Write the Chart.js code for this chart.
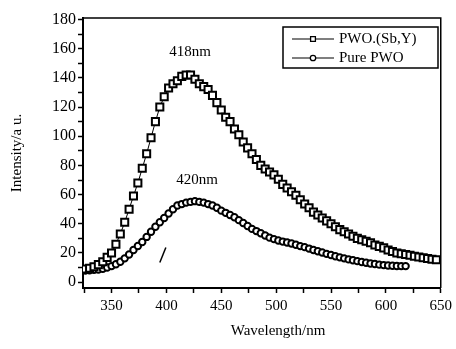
<!DOCTYPE html>
<html>
<head>
<meta charset="utf-8">
<script src="https://cdn.jsdelivr.net/npm/chart.js@4.4.0/dist/chart.umd.min.js"></script>
<style>
    body { margin: 0; background: #fff; }
    #wrap { width: 456px; height: 349px; position: relative; }
</style>
</head>
<body>
<div id="wrap"><canvas id="myChart"></canvas></div>
<script>
// wavelengths (nm) and intensities
const sbyWave = [326, 330, 334, 338, 342, 346, 350, 354, 358, 362,
    366, 370, 374, 378, 382, 386, 390, 394, 398, 402,
    406, 410, 414, 418, 422, 426, 430, 434, 438, 442,
    446, 450, 454, 458, 462, 466, 470, 474, 478, 482,
    486, 490, 494, 498, 502, 506, 510, 514, 518, 522,
    526, 530, 534, 538, 542, 546, 550, 554, 558, 562,
    566, 570, 574, 578, 582, 586, 590, 594, 598, 602,
    606, 610, 614, 618, 622, 626, 630, 634, 638, 642,
    646];
const sbyIntensity = [9, 9.5, 10.5, 12, 14, 17, 20, 26, 33, 41,
    50, 59, 68, 78, 88, 99, 110, 120, 127, 133,
    136, 138, 141, 142, 142, 139, 136, 134, 132, 128,
    123, 118, 113, 110, 105, 101, 96, 92, 88, 84,
    80, 77.5, 75.5, 73.5, 70.5, 67, 64.5, 62, 59.5, 56.5,
    53.5, 51, 48, 46, 44, 42, 40, 38, 36, 34.5,
    33, 31.5, 30, 29, 28, 27, 25.5, 24.5, 23.5, 22,
    21, 20, 19.5, 19, 18.5, 17.8, 17.2, 16.7, 16.2, 15.7,
    15.3];

const pureWave = [326, 330, 334, 338, 342, 346, 350, 354, 358, 362,
    366, 370, 374, 378, 382, 386, 390, 394, 398, 402,
    406, 410, 414, 418, 422, 426, 430, 434, 438, 442,
    446, 450, 454, 458, 462, 466, 470, 474, 478, 482,
    486, 490, 494, 498, 502, 506, 510, 514, 518, 522,
    526, 530, 534, 538, 542, 546, 550, 554, 558, 562,
    566, 570, 574, 578, 582, 586, 590, 594, 598, 602,
    606, 610, 614, 618];
const pureIntensity = [8, 8.2, 8.4, 8.7, 9.2, 10, 11, 12.3, 14, 16.3,
    19, 22, 24.8, 27.5, 31, 34.5, 38, 41, 44, 47,
    50, 52.5, 53.5, 54.5, 55, 55.5, 55, 54.5, 53.5, 52.5,
    51, 49, 47.5, 46, 44.5, 42.5, 40.5, 38.5, 36.5, 35,
    33.5, 32, 30.5, 29.5, 28.5, 27.8, 27.2, 26.5, 25.6, 24.7,
    24, 23, 22, 21.2, 20.3, 19.4, 18.6, 17.8, 17, 16.3,
    15.6, 15, 14.4, 13.8, 13.3, 12.8, 12.4, 12, 11.7, 11.4,
    11.2, 11.1, 11, 11];

const seriesNames = ['PWO.(Sb,Y)', 'Pure PWO'];
const peakLabels = [
    { text: '418nm', x: 421.5, y: 158 },
    { text: '420nm', x: 428, y: 70 }
];

// tick positions (labelled ones every 50 nm / 20 units)
const xTicks = [325, 350, 375, 400, 425, 450, 475, 500, 525, 550, 575, 600, 625, 650];
const xLabels = [350, 400, 450, 500, 550, 600, 650];
const yTicks = [0, 10, 20, 30, 40, 50, 60, 70, 80, 90, 100, 110, 120, 130, 140, 150, 160, 170, 180];
const yLabels = [0, 20, 40, 60, 80, 100, 120, 140, 160, 180];

const FONT = '"Liberation Serif", "Times New Roman", serif';

function toPoints(xs, ys) {
    return xs.map(function (x, i) { return { x: x, y: ys[i] }; });
}

// frame, legend box, peak labels and axis titles
const extras = {
    id: 'extras',
    afterDraw: function (chart) {
        const c = chart.ctx;
        const area = chart.chartArea;
        const xs = chart.scales.x;
        const ys = chart.scales.y;
        c.save();
        c.strokeStyle = '#000';
        c.lineWidth = 1.5;
        c.beginPath();
        c.moveTo(area.left, area.top);
        c.lineTo(area.right, area.top);
        c.lineTo(area.right, area.bottom);
        c.stroke();

        c.fillStyle = '#000';
        c.font = '15px ' + FONT;
        c.textAlign = 'center';
        c.textBaseline = 'middle';
        peakLabels.forEach(function (p) {
            c.fillText(p.text, xs.getPixelForValue(p.x), ys.getPixelForValue(p.y));
        });

        // small stray stroke near 395 nm
        c.lineWidth = 1.5;
        c.beginPath();
        c.moveTo(xs.getPixelForValue(394), ys.getPixelForValue(13.5));
        c.lineTo(xs.getPixelForValue(399.5), ys.getPixelForValue(23.8));
        c.stroke();

        // legend
        const lx = 283, ly = 27, lw = 155, lh = 41;
        c.lineWidth = 1.5;
        c.strokeRect(lx, ly, lw, lh);
        c.textAlign = 'left';
        chart.data.datasets.forEach(function (ds, i) {
            const yy = 39 + i * 19;
            c.strokeStyle = '#000';
            c.lineWidth = 1.2;
            c.beginPath();
            c.moveTo(292, yy);
            c.lineTo(334, yy);
            c.stroke();
            c.fillStyle = '#fff';
            c.lineWidth = 1.3;
            Chart.helpers.drawPoint(c, {
                pointStyle: ds.pointStyle,
                radius: ds.pointStyle === 'rect' ? 3.4 : 2.7,
                borderWidth: 1.3
            }, 313, yy);
            c.fillStyle = '#000';
            c.fillText(ds.label, 339, yy);
        });

        // axis titles
        c.font = '15px ' + FONT;
        c.textAlign = 'center';
        c.fillText('Wavelength/nm', 278, 331);
        c.translate(17, (area.top + area.bottom) / 2);
        c.rotate(-Math.PI / 2);
        c.fillText('Intensity/a u.', 0, 0);
        c.restore();
    }
};

const ctx = document.getElementById('myChart');
new Chart(ctx, {
    type: 'scatter',
    data: {
        datasets: [
            {
                label: seriesNames[0],
                data: toPoints(sbyWave, sbyIntensity),
                showLine: true,
                borderColor: '#000',
                borderWidth: 1,
                pointStyle: 'rect',
                pointRadius: 5,
                pointBorderWidth: 2,
                pointBackgroundColor: '#fff',
                pointBorderColor: '#000'
            },
            {
                label: seriesNames[1],
                data: toPoints(pureWave, pureIntensity),
                showLine: true,
                borderColor: '#000',
                borderWidth: 1,
                pointStyle: 'circle',
                pointRadius: 3.2,
                pointBorderWidth: 2,
                pointBackgroundColor: '#fff',
                pointBorderColor: '#000'
            }
        ]
    },
    options: {
        responsive: true,
        maintainAspectRatio: false,
        animation: false,
        layout: { padding: { top: 18, right: 9, left: 0, bottom: 0 } },
        plugins: {
            legend: { display: false },
            tooltip: { enabled: false }
        },
        scales: {
            x: {
                type: 'linear',
                min: 324,
                max: 650,
                afterFit: function (scale) { scale.height = 61; },
                afterBuildTicks: function (scale) {
                    scale.ticks = xTicks.map(function (v) { return { value: v }; });
                },
                ticks: {
                    autoSkip: false,
                    color: '#000',
                    padding: 4,
                    maxRotation: 0,
                    font: { family: FONT, size: 15 },
                    callback: function (v) { return xLabels.indexOf(v) >= 0 ? v : ''; }
                },
                grid: { drawOnChartArea: false, drawTicks: true, tickLength: 5, tickWidth: 1.5, tickColor: '#000' },
                border: { display: true, color: '#000', width: 2 }
            },
            y: {
                min: -4,
                max: 181,
                afterFit: function (scale) { scale.width = 83; },
                afterBuildTicks: function (scale) {
                    scale.ticks = yTicks.map(function (v) { return { value: v }; });
                },
                ticks: {
                    autoSkip: false,
                    color: '#000',
                    padding: 2,
                    font: { family: FONT, size: 16 },
                    callback: function (v) { return yLabels.indexOf(v) >= 0 ? v : ''; }
                },
                grid: { drawOnChartArea: false, drawTicks: true, tickLength: 5, tickWidth: 1.5, tickColor: '#000' },
                border: { display: true, color: '#000', width: 2 }
            }
        }
    },
    plugins: [extras]
});
</script>
</body>
</html>
